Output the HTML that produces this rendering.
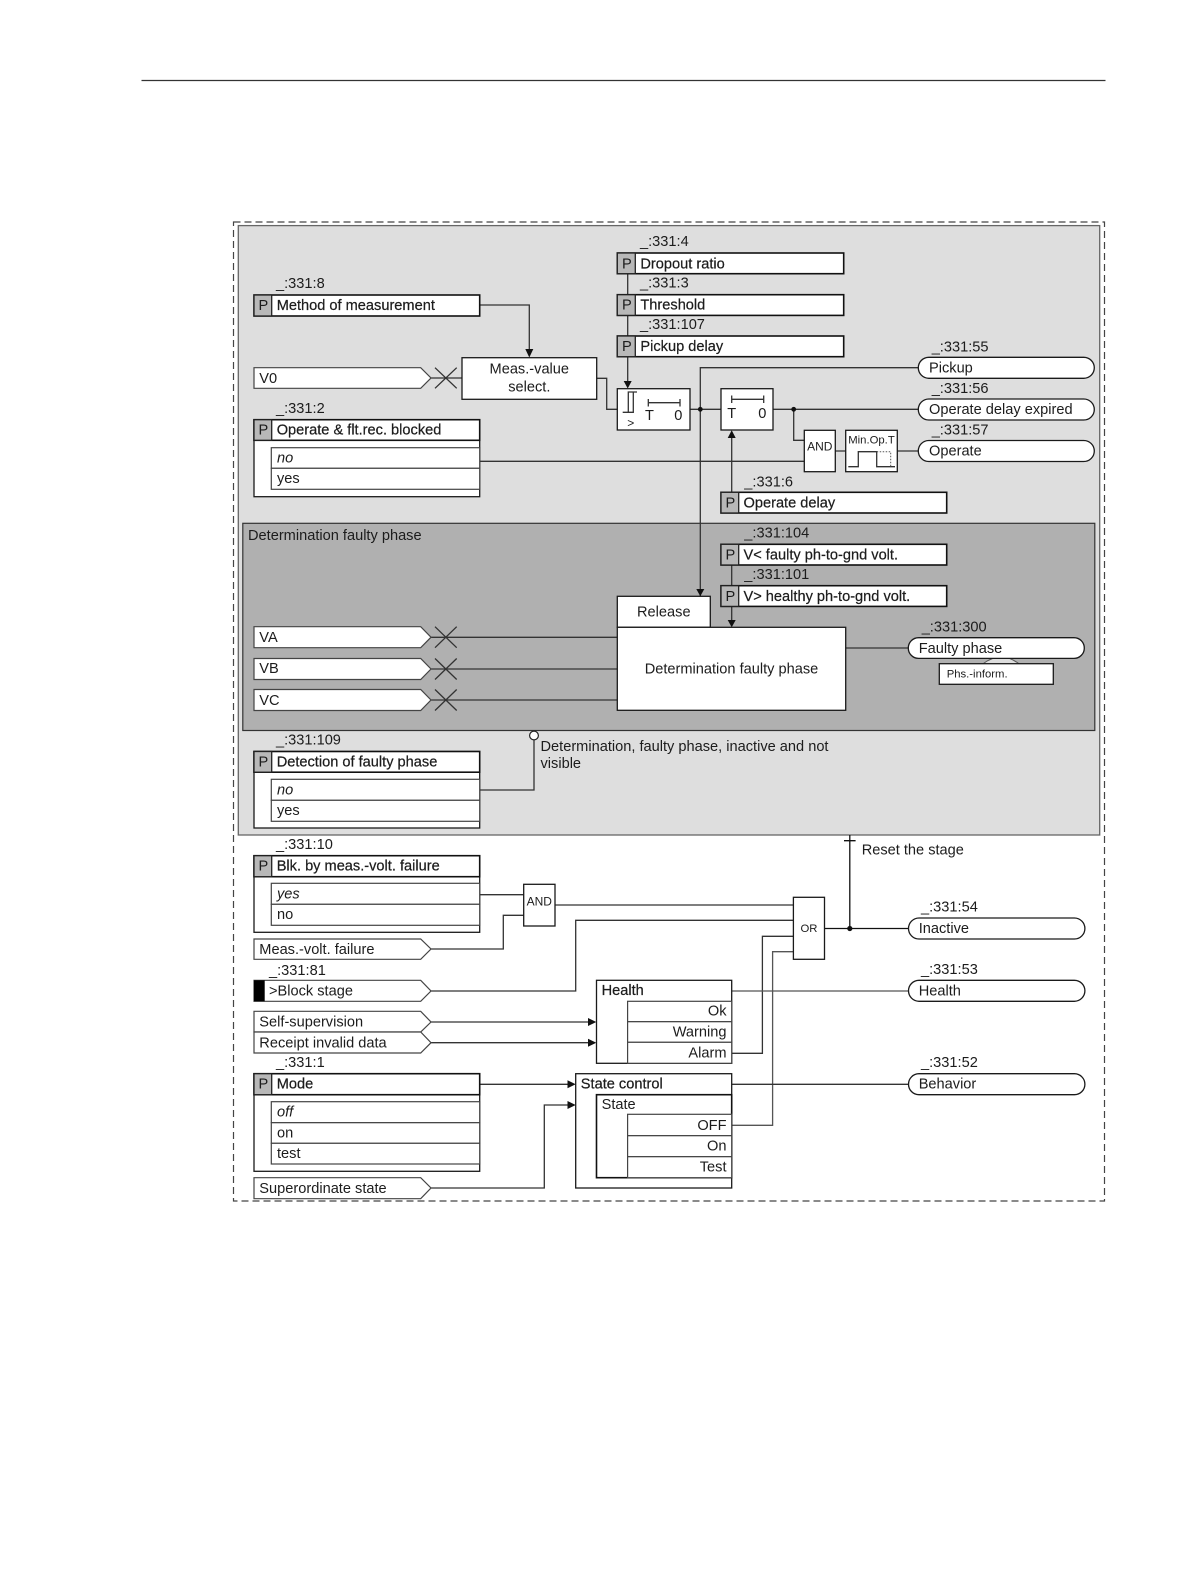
<!DOCTYPE html>
<html><head><meta charset="utf-8"><style>
html,body{margin:0;padding:0;background:#fff}
svg{display:block}
text{font-family:"Liberation Sans",Arial,sans-serif;font-size:14.6px;fill:#1c1c1c}
.h{stroke:#1c1c1c;stroke-width:.22px}
.b{fill:#fff;stroke:#1a1a1a;stroke-width:1.3}
.k{fill:#fff;stroke:#111;stroke-width:1.6}
.g{fill:#b8b8b8;stroke:#222;stroke-width:1.3}
.n{fill:none;stroke:#333;stroke-width:1.3}
.i{fill:#fff;stroke:#444;stroke-width:1.2}
.a{fill:#111;stroke:none}
.s{font-size:12px}
.x{font-size:11.3px}
.e{text-anchor:end}
.m{text-anchor:middle}
</style></head><body>
<svg width="1191" height="1587" viewBox="0 0 1191 1587" xmlns="http://www.w3.org/2000/svg">
<rect width="1191" height="1587" fill="#fff"/>
<line x1="141.5" y1="80.5" x2="1105.5" y2="80.5" stroke="#333" stroke-width="1.2"/>
<rect x="233.5" y="222" width="871" height="979" fill="#fff" stroke="#444" stroke-width="1.2" stroke-dasharray="7 4"/>
<rect x="238.3" y="225.6" width="861.4" height="609.4" fill="#dedede" stroke="#666" stroke-width="1.3"/>
<rect x="242.8" y="523.3" width="852" height="207.2" fill="#b0b0b0" stroke="#333" stroke-width="1.2"/>

<!-- connectors -->
<path class="n" d="M479.7 305H529.3V350"/>
<path class="n" d="M431 378H464"/>
<path class="n" d="M596.7 378.3H606.7V409.3H617"/>
<path class="n" d="M627.7 273V382"/>
<path class="n" d="M690 409.3H721M700.3 596V367.7H918.3"/>
<path class="n" d="M773 409.3H918.3M793.7 409.3V440.3H804.3"/>
<path class="n" d="M479.7 461.3H804.3"/>
<path class="n" d="M835.3 451H845.7M897.3 451H918.3"/>
<path class="n" d="M731.7 492.3V437"/>
<path class="n" d="M731.7 565V621"/>
<path class="n" d="M431 637.3H617.3M431 669H617.3M431 700H617.3"/>
<path class="n" d="M845.7 648H908.3"/>
<path class="n" d="M479.7 790H534V740"/>
<path class="n" d="M479.7 894.7H523.7M431 949H503.3V915.3H523.7"/>
<path class="n" d="M555 905H793.4M431 991H575.7V920.3H793.4"/>
<path class="n" d="M731.7 1053.3H762.4V936.3H793.4"/>
<path class="n" d="M731.7 1125.3H772.6V951.7H793.4" style="stroke:#555"/>
<path class="n" d="M824.5 928.5H908.5M849.8 928.5V835M844 840.7H855.6" style="stroke:#111"/>
<path class="n" d="M731.7 991H908.5" style="stroke:#555"/>
<path class="n" d="M731.7 1084.3H908.5"/>
<path class="n" d="M431 1022H590M431 1042.7H590"/>
<path class="n" d="M479.7 1084.3H570M431 1188H544.3V1105H570"/>

<!-- arrowheads -->
<polygon class="a" points="525.3,349 533.3,349 529.3,357.5"/>
<polygon class="a" points="623.7,381 631.7,381 627.7,388.5"/>
<polygon class="a" points="727.7,438 735.7,438 731.7,430.3"/>
<polygon class="a" points="696.3,589 704.3,589 700.3,596.3"/>
<polygon class="a" points="727.7,620 735.7,620 731.7,627.3"/>
<polygon class="a" points="588,1018 596.3,1022 588,1026"/>
<polygon class="a" points="588,1038.7 596.3,1042.7 588,1046.7"/>
<polygon class="a" points="567.5,1080.3 575.7,1084.3 567.5,1088.3"/>
<polygon class="a" points="567.5,1101 575.7,1105 567.5,1109"/>
<circle class="a" cx="700.3" cy="409.3" r="2.4"/>
<circle class="a" cx="793.7" cy="409.3" r="2.4"/>
<circle class="a" cx="849.8" cy="928.5" r="2.6"/>
<circle cx="534" cy="735.5" r="4.4" fill="#fff" stroke="#222" stroke-width="1.2"/>

<!-- crosses -->
<path class="n" d="M435 367.7L456.7 388.3M435 388.3L456.7 367.7"/>
<path class="n" d="M435 626.7L456.7 647.7M435 647.7L456.7 626.7"/>
<path class="n" d="M435 658.5L456.7 679.5M435 679.5L456.7 658.5"/>
<path class="n" d="M435 689.5L456.7 710.5M435 710.5L456.7 689.5"/>

<!-- top parameters -->
<text x="640" y="246">_:331:4</text>
<rect class="k" x="617.3" y="253" width="226.4" height="20.7"/><rect class="g" x="617.3" y="253" width="18" height="20.7"/><text x="622" y="268.5">P</text><text class="h" x="640.4" y="268.5">Dropout ratio</text>
<text x="640" y="287.5">_:331:3</text>
<rect class="k" x="617.3" y="294.7" width="226.4" height="20.7"/><rect class="g" x="617.3" y="294.7" width="18" height="20.7"/><text x="622" y="309.7">P</text><text class="h" x="640.4" y="309.7">Threshold</text>
<text x="640" y="329">_:331:107</text>
<rect class="k" x="617.3" y="336" width="226.4" height="20.7"/><rect class="g" x="617.3" y="336" width="18" height="20.7"/><text x="622" y="351">P</text><text class="h" x="640.4" y="351">Pickup delay</text>

<!-- Method -->
<text x="276" y="288">_:331:8</text>
<rect class="k" x="254" y="295" width="225.7" height="21"/><rect class="g" x="254" y="295" width="17.7" height="21"/><text x="258.5" y="309.8">P</text><text class="h" x="276.7" y="309.8">Method of measurement</text>

<!-- V0 / Meas -->
<polygon class="i" points="254,367.7 420.7,367.7 431,378 420.7,388.3 254,388.3"/><text x="259.3" y="383">V0</text>
<rect class="b" x="462" y="357.7" width="134.7" height="41.6"/>
<text class="m" x="529.3" y="373.7">Meas.-value</text><text class="m" x="529.3" y="391.3">select.</text>

<!-- Operate & flt -->
<text x="276" y="413">_:331:2</text>
<rect class="b" x="254" y="419.7" width="225.7" height="77"/>
<rect class="k" x="254" y="419.7" width="225.7" height="20.6"/><rect class="g" x="254" y="419.7" width="17.7" height="20.6"/><text x="258.5" y="434.3">P</text><text class="h" x="276.7" y="434.3">Operate &amp; flt.rec. blocked</text>
<rect class="i" x="271.3" y="447.7" width="208.4" height="20.6"/><rect class="i" x="271.3" y="468.3" width="208.4" height="21"/>
<text x="277" y="462.5" font-style="italic">no</text><text x="277" y="483">yes</text>

<!-- timers -->
<rect class="b" x="617.3" y="388.7" width="72.7" height="41.3"/>
<path class="n" d="M622.7 412.3H633.3V392M628.3 412.3V392H637"/>
<text class="s m" x="630.7" y="427">&gt;</text>
<path class="n" d="M648.3 402.7H680M648.3 399V406.5M680 399V406.5"/>
<text class="m" x="649.5" y="420">T</text><text class="m" x="678.3" y="420">0</text>
<rect class="b" x="721" y="388.7" width="52" height="41.3"/>
<path class="n" d="M731.7 399.3H763.7M731.7 395.5V403M763.7 395.5V403"/>
<text class="m" x="731.7" y="418">T</text><text class="m" x="762.3" y="418">0</text>
<rect class="b" x="804.3" y="430.3" width="31" height="41.4"/><text class="s m" x="819.8" y="450.7">AND</text>
<rect class="b" x="845.7" y="430.3" width="51.6" height="41.4"/><text class="x m" x="871.5" y="443.3">Min.Op.T</text>
<path class="n" d="M848.3 466.7H858.3V451.7H876.7V466.7H895"/>
<path d="M876.7 451.7H890.7V466.7" fill="none" stroke="#555" stroke-dasharray="1.5 1.5"/>

<!-- outputs top -->
<text x="931.7" y="351.7">_:331:55</text>
<rect class="b" x="918.3" y="357.3" width="176" height="21" rx="10.5"/><text x="929" y="372.5">Pickup</text>
<text x="931.7" y="393">_:331:56</text>
<rect class="b" x="918.3" y="399" width="176" height="21" rx="10.5"/><text x="929" y="414">Operate delay expired</text>
<text x="931.7" y="434.5">_:331:57</text>
<rect class="b" x="918.3" y="440.5" width="176" height="21" rx="10.5"/><text x="929" y="455.5">Operate</text>

<text x="744.3" y="486.7">_:331:6</text>
<rect class="k" x="721" y="492.3" width="225.7" height="20.7"/><rect class="g" x="721" y="492.3" width="17.7" height="20.7"/><text x="725.5" y="507.5">P</text><text class="h" x="743.5" y="507.5">Operate delay</text>

<!-- determination -->
<text x="248" y="540">Determination faulty phase</text>
<text x="744.3" y="537.3">_:331:104</text>
<rect class="k" x="721" y="544.3" width="225.7" height="20.7"/><rect class="g" x="721" y="544.3" width="17.7" height="20.7"/><text x="725.5" y="559.5">P</text><text class="h" x="743.5" y="559.5">V&lt; faulty ph-to-gnd volt.</text>
<text x="744.3" y="579">_:331:101</text>
<rect class="k" x="721" y="585.7" width="225.7" height="20.7"/><rect class="g" x="721" y="585.7" width="17.7" height="20.7"/><text x="725.5" y="601">P</text><text class="h" x="743.5" y="601">V&gt; healthy ph-to-gnd volt.</text>
<rect class="b" x="617.3" y="596.3" width="93" height="31"/><text class="m" x="663.8" y="616.5">Release</text>
<rect class="b" x="617.3" y="627.3" width="228.4" height="83"/><text class="m" x="731.5" y="673.5">Determination faulty phase</text>
<polygon class="i" points="254,626.7 420.7,626.7 431,637.2 420.7,647.7 254,647.7"/><text x="259.3" y="642">VA</text>
<polygon class="i" points="254,658.5 420.7,658.5 431,669 420.7,679.5 254,679.5"/><text x="259.3" y="673">VB</text>
<polygon class="i" points="254,689.5 420.7,689.5 431,700 420.7,710.5 254,710.5"/><text x="259.3" y="705">VC</text>
<text x="921.7" y="631.7">_:331:300</text>
<path d="M982.7 664Q1001 650 1019.3 664Z" fill="#ddd" stroke="#555"/>
<rect class="b" x="908.3" y="637.7" width="176" height="20.7" rx="10.3"/><text x="918.7" y="652.8">Faulty phase</text>
<rect class="b" x="939.3" y="663.7" width="114" height="20.6"/><text class="x" x="946.7" y="677.5">Phs.-inform.</text>

<!-- detection -->
<text x="276" y="744.6">_:331:109</text>
<rect class="b" x="254" y="751.5" width="225.7" height="76.5"/>
<rect class="k" x="254" y="751.5" width="225.7" height="20.7"/><rect class="g" x="254" y="751.5" width="17.7" height="20.7"/><text x="258.5" y="766.5">P</text><text class="h" x="276.7" y="766.5">Detection of faulty phase</text>
<rect class="i" x="271.3" y="779.3" width="208.4" height="21"/><rect class="i" x="271.3" y="800.3" width="208.4" height="21"/>
<text x="277" y="794.5" font-style="italic">no</text><text x="277" y="815">yes</text>
<text x="540.5" y="751">Determination, faulty phase, inactive and not</text>
<text x="540.5" y="768">visible</text>

<!-- Blk -->
<text x="276" y="849">_:331:10</text>
<rect class="b" x="254" y="855.7" width="225.7" height="76.6"/>
<rect class="k" x="254" y="855.7" width="225.7" height="21"/><rect class="g" x="254" y="855.7" width="17.7" height="21"/><text x="258.5" y="870.5">P</text><text class="h" x="276.7" y="870.5">Blk. by meas.-volt. failure</text>
<rect class="i" x="271.3" y="883.3" width="208.4" height="21"/><rect class="i" x="271.3" y="904.3" width="208.4" height="21"/>
<text x="277" y="898.5" font-style="italic">yes</text><text x="277" y="919">no</text>
<rect class="b" x="523.7" y="884.3" width="31.3" height="41.7"/><text class="s m" x="539.3" y="905.7">AND</text>
<polygon class="i" points="254,939 420.7,939 431,949 420.7,959.3 254,959.3"/><text x="259.3" y="954">Meas.-volt. failure</text>
<text x="269" y="975">_:331:81</text>
<polygon class="i" points="254,980.3 420.7,980.3 431,991 420.7,1001.3 254,1001.3"/><rect x="254" y="980.3" width="10.7" height="21" fill="#000"/><text x="269" y="995.7">&gt;Block stage</text>
<polygon class="i" points="254,1011.3 420.7,1011.3 431,1022 420.7,1032 254,1032"/><text x="259.3" y="1026.7">Self-supervision</text>
<polygon class="i" points="254,1032 420.7,1032 431,1042.7 420.7,1053 254,1053"/><text x="259.3" y="1047.5">Receipt invalid data</text>

<!-- Mode -->
<text x="276" y="1067">_:331:1</text>
<rect class="b" x="254" y="1073.7" width="225.7" height="97.6"/>
<rect class="k" x="254" y="1073.7" width="225.7" height="21"/><rect class="g" x="254" y="1073.7" width="17.7" height="21"/><text x="258.5" y="1088.5">P</text><text class="h" x="276.7" y="1088.5">Mode</text>
<rect class="i" x="271.3" y="1101.7" width="208.4" height="21"/><rect class="i" x="271.3" y="1122.7" width="208.4" height="20.6"/><rect class="i" x="271.3" y="1143.3" width="208.4" height="20.7"/>
<text x="277" y="1116.5" font-style="italic">off</text><text x="277" y="1137.7">on</text><text x="277" y="1158">test</text>
<polygon class="i" points="254,1177.7 420.7,1177.7 431,1188 420.7,1198.7 254,1198.7"/><text x="259.3" y="1193">Superordinate state</text>

<!-- Health -->
<rect class="b" x="596.5" y="980.3" width="135.2" height="83"/>
<rect class="i" x="627.6" y="1001.3" width="104.1" height="20.4"/><rect class="i" x="627.6" y="1021.7" width="104.1" height="20.6"/><rect class="i" x="627.6" y="1042.3" width="104.1" height="21"/>
<text class="h" x="601.6" y="995">Health</text>
<text class="e" x="726.5" y="1015.7">Ok</text><text class="e" x="726.5" y="1036.7">Warning</text><text class="e" x="726.5" y="1057.3">Alarm</text>

<!-- State -->
<rect class="b" x="575.7" y="1073.7" width="156" height="114.3"/>
<rect class="k" x="596.5" y="1094.7" width="135.2" height="83" style="fill:none"/>
<rect class="i" x="627.6" y="1114.3" width="104.1" height="21.4"/><rect class="i" x="627.6" y="1135.7" width="104.1" height="21"/><rect class="i" x="627.6" y="1156.7" width="104.1" height="21"/>
<text class="h" x="580.8" y="1088.3">State control</text><text x="601.6" y="1109">State</text>
<text class="e" x="726.5" y="1130">OFF</text><text class="e" x="726.5" y="1150.7">On</text><text class="e" x="726.5" y="1171.7">Test</text>

<!-- OR -->
<rect class="b" x="793.4" y="897.3" width="31.1" height="62"/><text class="x m" x="809" y="932">OR</text>
<text x="861.7" y="854.3">Reset the stage</text>

<!-- bottom outputs -->
<text x="921" y="911.7">_:331:54</text>
<rect class="b" x="908.5" y="918" width="176.4" height="21" rx="10.5"/><text x="918.7" y="933">Inactive</text>
<text x="921" y="974">_:331:53</text>
<rect class="b" x="908.5" y="980.3" width="176.4" height="21" rx="10.5"/><text x="918.7" y="995.5">Health</text>
<text x="921" y="1067">_:331:52</text>
<rect class="b" x="908.5" y="1073.7" width="176.4" height="21" rx="10.5"/><text x="918.7" y="1088.5">Behavior</text>
</svg>
</body></html>
